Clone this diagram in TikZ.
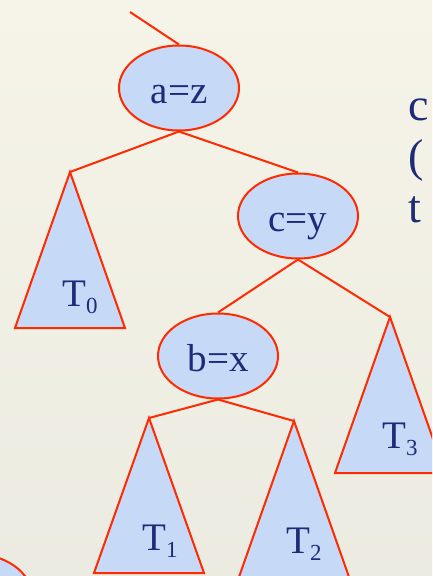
\documentclass[tikz,border=0pt]{standalone}
\usepackage{fontspec}
\setmainfont{Liberation Serif}
\usetikzlibrary{shapes.geometric}
\definecolor{azulNodo}{HTML}{C6DAF8}
\definecolor{rojoLinea}{HTML}{FF2A00}
\definecolor{tinta}{HTML}{1F2A78}
\definecolor{fondoArriba}{HTML}{F6F4E8}
\definecolor{fondoAbajo}{HTML}{ECEBE1}
\newcommand{\subidx}[1]{\raisebox{-7pt}{\fontsize{23}{23}\selectfont #1}}

\begin{document}
\begin{tikzpicture}[x=1pt,y=-1pt,
    nodo/.style={ellipse,draw=rojoLinea,line width=2pt,fill=azulNodo,text=tinta,minimum width=120pt,minimum height=85pt,inner sep=0pt,text height=30pt,text depth=0pt,font=\fontsize{39}{39}\selectfont},
    arbol/.style={draw=rojoLinea,line width=2pt,fill=azulNodo},
    arista/.style={draw=rojoLinea,line width=2pt},
    etiqueta/.style={anchor=base west,inner sep=0pt,text=tinta,font=\fontsize{39}{39}\selectfont}]
    \useasboundingbox[top color=fondoArriba,bottom color=fondoAbajo] (0,0) rectangle (432,576);
    \clip (0,0) rectangle (432,576);
    \coordinate (arriba) at (130,12);
    \coordinate (t0) at (70,172);
    \coordinate (t1) at (149,418);
    \coordinate (t2) at (294,421);
    \coordinate (t3) at (390,317);
    \node[nodo] (az) at (179,88) {a=z};
    \node[nodo] (cy) at (298,216) {c=y};
    \node[nodo] (bx) at (218,356) {b=x};
    \node[nodo] (otro) at (-28,596) {};
    \draw[arista] (arriba) -- (az.north);
    \draw[arista] (az.south) -- (t0);
    \draw[arista] (az.south) -- (cy.north);
    \draw[arista] (cy.south) -- (bx.north);
    \draw[arista] (cy.south) -- (t3);
    \draw[arista] (bx.south) -- (t1);
    \draw[arista] (bx.south) -- (t2);
    \draw[arbol] (t0) -- ++(-55,156) -- ++(110,0) -- cycle;
    \draw[arbol] (t1) -- ++(-55,155) -- ++(110,0) -- cycle;
    \draw[arbol] (t2) -- ++(-55,156) -- ++(110,0) -- cycle;
    \draw[arbol] (t3) -- ++(-55,156) -- ++(110,0) -- cycle;
    \node[etiqueta] (e0) at (62,306) {T\subidx{0}};
    \node[etiqueta] (e1) at (142,550) {T\subidx{1}};
    \node[etiqueta] (e2) at (286,553) {T\subidx{2}};
    \node[etiqueta] (e3) at (382,448) {T\subidx{3}};
    \node[anchor=north west,align=left,inner sep=0pt,text=tinta,font=\fontsize{46}{51}\selectfont] (nota) at (408,99) {c\\(\\t};
  \end{tikzpicture}
\end{document}
